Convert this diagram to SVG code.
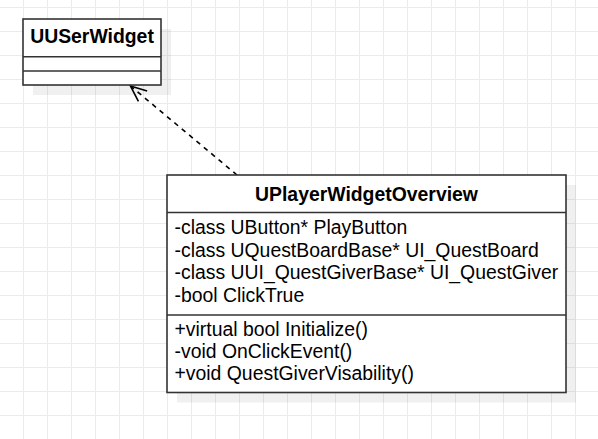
<svg xmlns="http://www.w3.org/2000/svg" width="598" height="439" viewBox="0 0 598 439">
  <style>
    .shadow { fill: #000; fill-opacity: 0.06; }
    .box { fill: #fff; stroke: #333; stroke-width: 1.6; }
    .div { stroke: #333; stroke-width: 1.6; fill: none; }
    .title { font-family: "Liberation Sans", Arial, sans-serif; font-size: 19.4px; font-weight: bold; fill: #000; text-anchor: middle; }
    .member { font-family: "Liberation Sans", Arial, sans-serif; font-size: 19.4px; fill: #000; }
    .edge { stroke: #000; stroke-width: 1.6; fill: none; stroke-dasharray: 4.8 4.8; }
  </style>
  <defs>
    <pattern id="grid" x="23" y="7" width="24" height="24" patternUnits="userSpaceOnUse">
      <path d="M0 0.5 H24 M0.5 0 V24" stroke="#ebebeb" stroke-width="1" fill="none"/>
    </pattern>
    <marker id="open" markerUnits="userSpaceOnUse" markerWidth="40" markerHeight="40" viewBox="-20 -20 40 40" refX="0" refY="0" orient="auto">
      <path d="M-16 -6.8 L0 0 L-16 6.8" fill="none" stroke="#000" stroke-width="1.6"/>
    </marker>
  </defs>
  <rect width="598" height="439" fill="#fff"/>
  <rect width="598" height="439" fill="url(#grid)"/>

  <g id="connectors">
    <path class="edge" d="M237 175 L130.5 86" marker-end="url(#open)"/>
  </g>

  <g id="UUSerWidget">
    <rect class="shadow" x="33" y="29" width="138" height="66"/>
    <rect class="box" x="23" y="19" width="138" height="66"/>
    <line class="div" x1="23" y1="56.7" x2="161" y2="56.7"/>
    <line class="div" x1="23" y1="71" x2="161" y2="71"/>
    <text class="title" x="92" y="43.3">UUSerWidget</text>
  </g>

  <g id="UPlayerWidgetOverview">
    <rect class="shadow" x="177" y="185" width="399" height="217.5"/>
    <rect class="box" x="167" y="175" width="399" height="217.5"/>
    <line class="div" x1="167" y1="212.5" x2="566" y2="212.5"/>
    <line class="div" x1="167" y1="315" x2="566" y2="315"/>
    <text class="title" x="366.5" y="201">UPlayerWidgetOverview</text>
    <text class="member" x="174.5" y="234">-class UButton* PlayButton</text>
    <text class="member" x="174.5" y="256.7">-class UQuestBoardBase* UI_QuestBoard</text>
    <text class="member" x="174.5" y="279">-class UUI_QuestGiverBase* UI_QuestGiver</text>
    <text class="member" x="174.5" y="301.7">-bool ClickTrue</text>
    <text class="member" x="174.5" y="336">+virtual bool Initialize()</text>
    <text class="member" x="174.5" y="358.3">-void OnClickEvent()</text>
    <text class="member" x="174.5" y="380">+void QuestGiverVisability()</text>
  </g>
</svg>
